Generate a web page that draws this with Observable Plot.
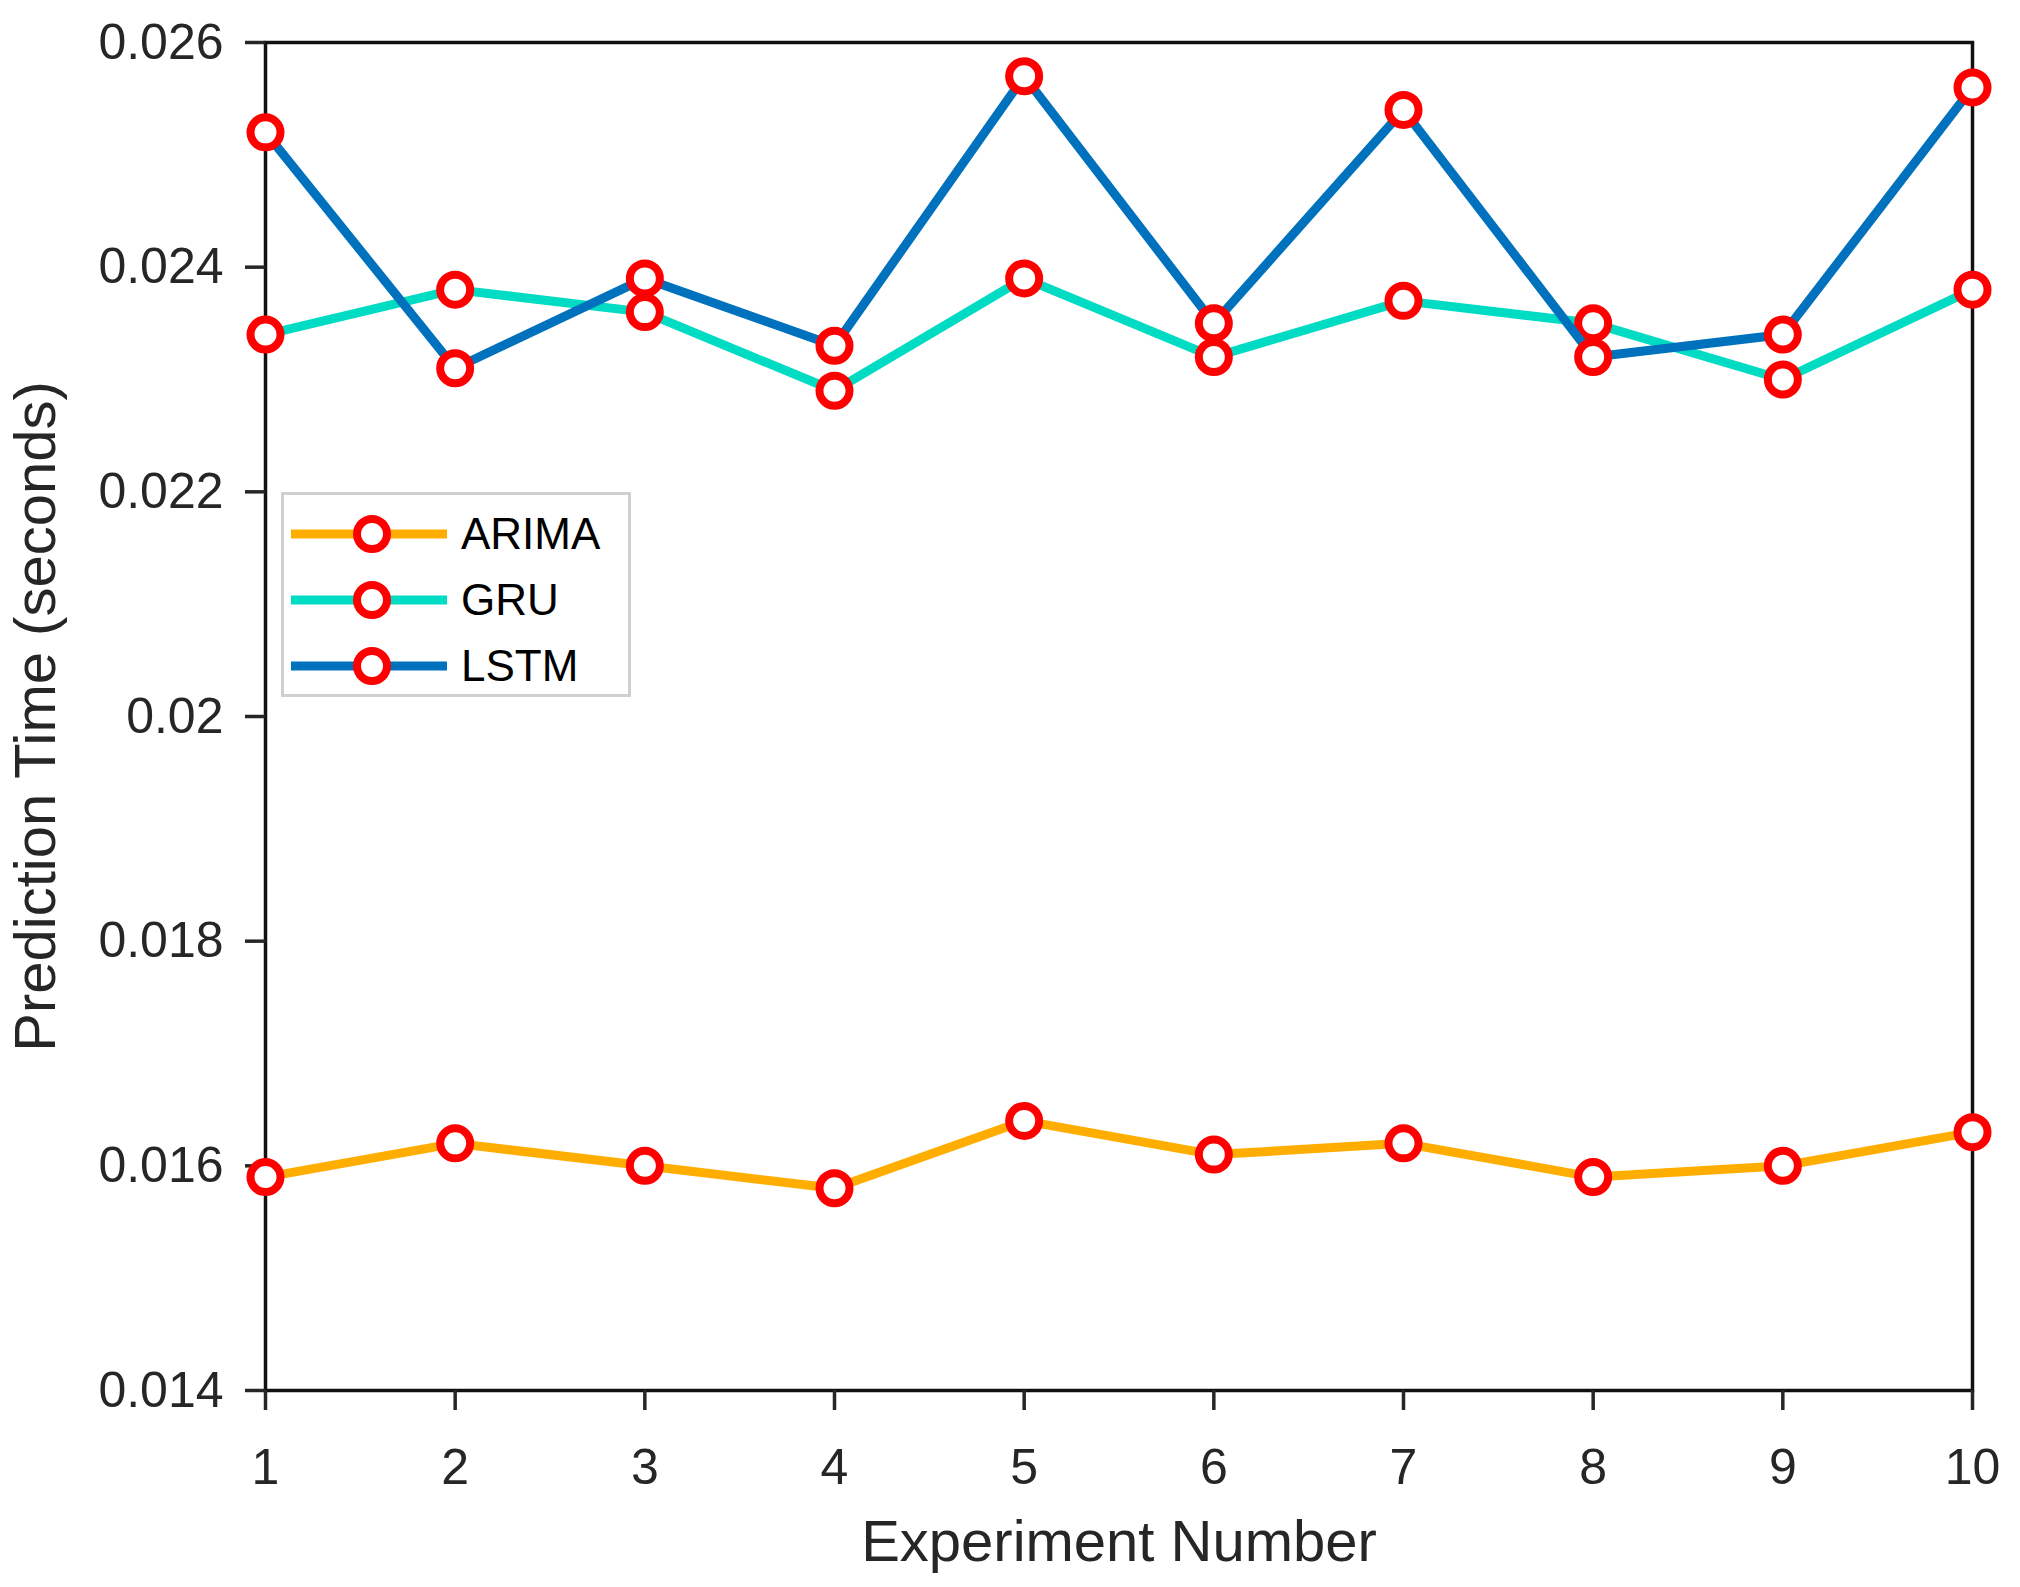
<!DOCTYPE html>
<html>
<head>
<meta charset="utf-8">
<script src="https://cdn.jsdelivr.net/npm/d3@7"></script>
<script src="https://cdn.jsdelivr.net/npm/@observablehq/plot@0.6"></script>
<style>
  body { margin: 0; background: #fff; font-family: "Liberation Sans", Arial, sans-serif; }
  #wrap { position: relative; width: 2020px; height: 1587px; }
  #legend {
    position: absolute; left: 281px; top: 492px; width: 344px; height: 199px;
    border: 3px solid #cfcfcf; background: #fff;
  }
  .row { position: absolute; left: 0; height: 66px; display: flex; align-items: center; }
  .row span { font-size: 44px; color: #000; margin-left: 2px; }
</style>
</head>
<body>
<div id="wrap">
  <div id="chart"></div>
  <div id="legend"></div>
</div>
<script>
// valores
const experiments = [1, 2, 3, 4, 5, 6, 7, 8, 9, 10];
const models = ["ARIMA", "GRU", "LSTM"];
const colors = ["#FFAE00", "#00DCC3", "#0072BD"];
const arima = [0.0159, 0.0162, 0.0160, 0.0158, 0.0164, 0.0161, 0.0162, 0.0159, 0.0160, 0.0163];
const gru   = [0.0234, 0.0238, 0.0236, 0.0229, 0.0239, 0.0232, 0.0237, 0.0235, 0.0230, 0.0238];
const lstm  = [0.0252, 0.0231, 0.0239, 0.0233, 0.0257, 0.0235, 0.0254, 0.0232, 0.0234, 0.0256];
const yTicks = [0.014, 0.016, 0.018, 0.02, 0.022, 0.024, 0.026];

const series = [arima, gru, lstm];
let data = [];
models.forEach((m, i) => {
  data = data.concat(experiments.map((e, j) => ({model: m, exp: e, time: series[i][j]})));
});

// una linea y sus marcadores por modelo, en orden
let marks = [];
models.forEach(m => {
  const rows = data.filter(d => d.model == m);
  marks.push(Plot.line(rows, {x: "exp", y: "time", stroke: "model", strokeWidth: 9}));
  marks.push(Plot.dot(rows, {x: "exp", y: "time", r: 15, stroke: "red", fill: "white", strokeWidth: 8}));
});

let chart = Plot.plot({
  width: 2020,
  height: 1587,
  marginLeft: 265,
  marginRight: 48,
  marginTop: 42,
  marginBottom: 197,
  style: {fontFamily: "'Liberation Sans', Arial, sans-serif", color: "#262626", background: "#fff"},
  x: {domain: [1, 10]},
  y: {domain: [0.014, 0.026]},
  color: {domain: models, range: colors},
  marks: [
    Plot.frame({stroke: "#111", strokeWidth: 3.5}),
    Plot.axisX({
      ticks: experiments, tickSize: 20, tickPadding: 38, fontSize: 50, strokeWidth: 3.5,
      label: "Experiment Number", labelAnchor: "center", labelOffset: 170, labelArrow: "none"
    }),
    Plot.axisY({
      ticks: yTicks, tickSize: 20, tickPadding: 22, fontSize: 50, strokeWidth: 3.5,
      tickFormat: d => String(+d.toFixed(3)),
      label: "Prediction Time (seconds)", labelAnchor: "center", labelOffset: 252, labelArrow: "none"
    }),
    ...marks
  ]
});
d3.select("#chart").append(() => chart);
d3.select(chart).selectAll("[aria-label='x-axis label'] text, [aria-label='y-axis label'] text").style("font-size", "58px");

// leyenda
const legend = d3.select("#legend");
models.forEach((m, i) => {
  const row = legend.append("div").attr("class", "row").style("top", (6 + i * 66) + "px");
  const sw = row.append("svg").attr("width", 175).attr("height", 40);
  sw.append("line").attr("x1", 7).attr("x2", 163).attr("y1", 20).attr("y2", 20)
    .attr("stroke", colors[i]).attr("stroke-width", 9);
  sw.append("circle").attr("cx", 88).attr("cy", 20).attr("r", 15)
    .attr("fill", "white").attr("stroke", "red").attr("stroke-width", 8);
  row.append("span").text(m);
});
</script>
</body>
</html>
